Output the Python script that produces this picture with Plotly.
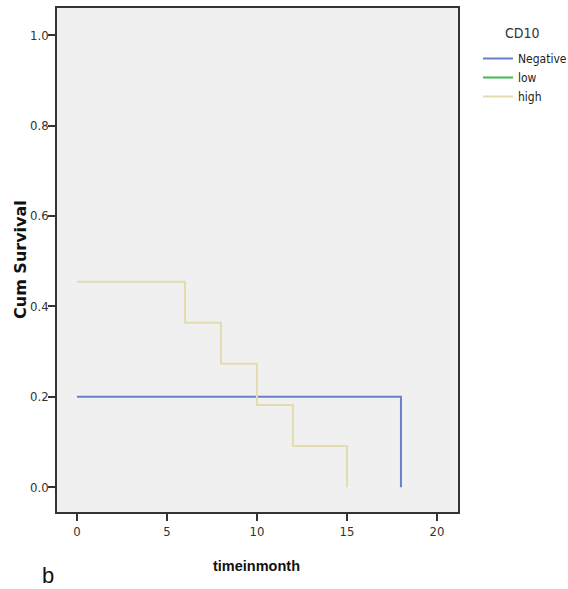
import plotly.graph_objects as go

# Data (Kaplan-Meier step curves)
neg_time = [0, 18, 18]
neg_surv = [0.2, 0.2, 0.0]
low_time = []
low_surv = []
high_time = [0, 6, 8, 10, 12, 15, 15]
high_surv = [0.4545, 0.3636, 0.2727, 0.1818, 0.0909, 0.0909, 0.0]

x_ticks = [0, 5, 10, 15, 20]
y_ticks = [0.0, 0.2, 0.4, 0.6, 0.8, 1.0]

fig = go.Figure()
fig.add_trace(go.Scatter(x=neg_time, y=neg_surv, mode="lines", line_shape="hv",
                         name="Negative", line=dict(color="#6a7fc9", width=2)))
fig.add_trace(go.Scatter(x=low_time if low_time else [None], y=low_surv if low_surv else [None],
                         mode="lines", line_shape="hv",
                         name="low", line=dict(color="#3dbb4f", width=2)))
fig.add_trace(go.Scatter(x=high_time, y=high_surv, mode="lines", line_shape="hv",
                         name="high", line=dict(color="#e2dcae", width=2)))

narrow = "DejaVu Sans Condensed, Liberation Sans Narrow, Arial Narrow, sans-serif"
tickfont = dict(family=narrow, size=13, color="#333")
L, R, T, B = 57, 110, 8, 77
W, H = 568, 589
pw, ph = W - L - R, H - T - B


def px_x(x):
    return (x - L) / pw


def px_y(y):
    return (H - B - y) / ph


fig.update_layout(
    width=W, height=H,
    margin=dict(l=L, r=R, t=T, b=B, autoexpand=False),
    paper_bgcolor="white", plot_bgcolor="#f0f0f0",
    showlegend=True,
    legend=dict(x=px_x(478), y=px_y(44), xanchor="left", yanchor="top",
                font=dict(family=narrow, size=12, color="#222"),
                itemwidth=30, tracegroupgap=0, bgcolor="rgba(0,0,0,0)"),
    xaxis=dict(range=[-1.11, 21.17], tickvals=x_ticks, ticks="outside", ticklen=7, tickwidth=1.5,
               tickcolor="#333", showline=True, linecolor="#333", linewidth=1.5, mirror=True,
               showgrid=False, zeroline=False, tickfont=tickfont, automargin=False),
    yaxis=dict(range=[-0.055, 1.06], tickvals=y_ticks, tickformat=".1f", ticks="outside", ticklen=7, tickwidth=1.5,
               tickcolor="#333", showline=True, linecolor="#333", linewidth=1.5, mirror=True,
               showgrid=False, zeroline=False, tickfont=tickfont, automargin=False,
               ticklabelstandoff=-3),
    annotations=[
        dict(text="<b>Cum Survival</b>", x=px_x(20), y=px_y(260), xref="paper", yref="paper",
             showarrow=False, xanchor="center", yanchor="middle", textangle=-90,
             font=dict(family="DejaVu Sans, sans-serif", size=16, color="#111")),
        dict(text="<b>timeinmonth</b>", x=px_x(256), y=px_y(566), xref="paper", yref="paper",
             showarrow=False, xanchor="center", yanchor="middle",
             font=dict(family="Arial, Liberation Sans, sans-serif", size=14.5, color="#111")),
        dict(text="CD10", x=px_x(522), y=px_y(33), xref="paper", yref="paper",
             showarrow=False, xanchor="center", yanchor="middle",
             font=dict(family=narrow, size=14, color="#333")),
        dict(text="b", x=px_x(48), y=px_y(575), xref="paper", yref="paper",
             showarrow=False, xanchor="center", yanchor="middle",
             font=dict(family="Arial, Liberation Sans, sans-serif", size=22, color="#111")),
    ]
)

fig.write_html("out.html", config={"displayModeBar": False},
               post_script="document.body.style.margin='0';")
